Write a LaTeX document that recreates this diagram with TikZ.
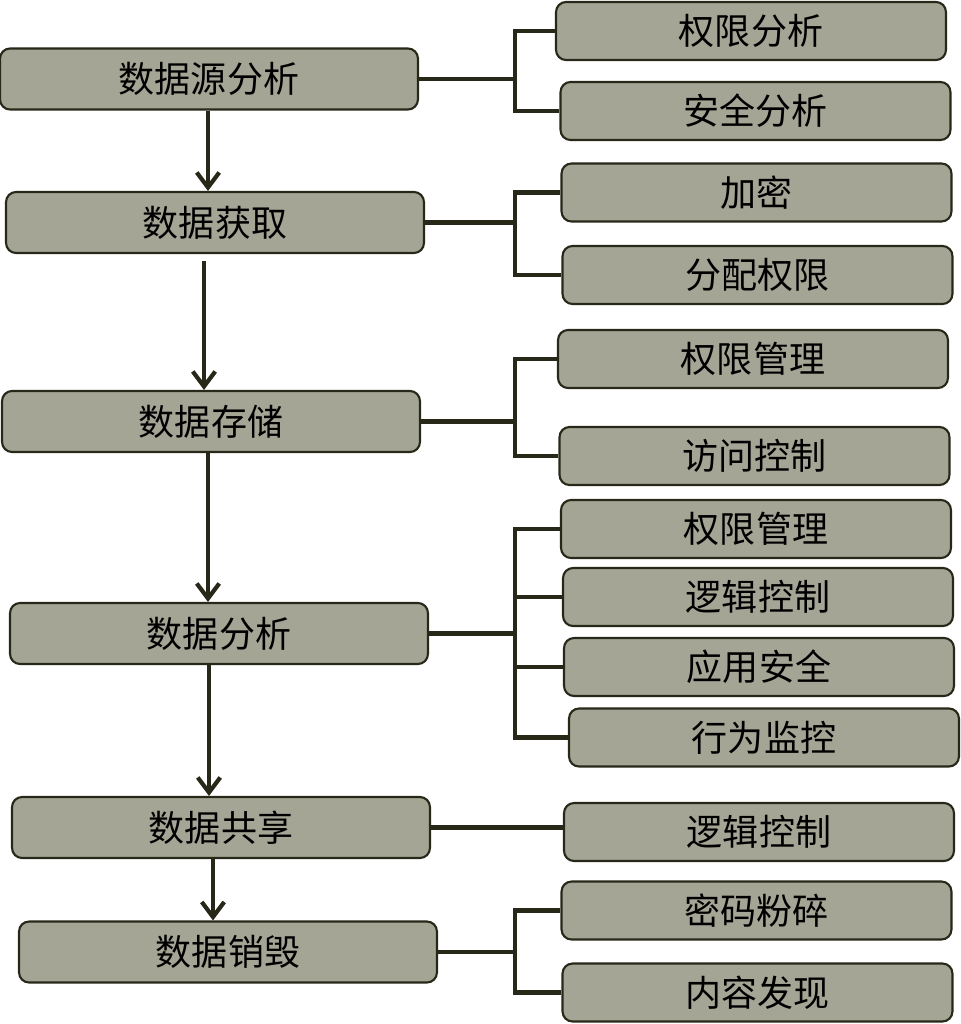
\documentclass[tikz,border=0pt]{standalone}
\usepackage{fontspec}
\setmainfont{Noto Sans CJK SC}
\usepackage{tikz}
\usetikzlibrary{arrows.meta, positioning}
\definecolor{boxgray}{RGB}{165,165,150}
\definecolor{linedark}{RGB}{40,40,24}

\begin{document}
\begin{tikzpicture}[x=0.02cm, y=-0.02cm,
    stage/.style={draw=linedark, line width=1.2pt, fill=boxgray, rounded corners=0.2cm, minimum width=8.36cm, minimum height=1.22cm, inner sep=0pt, font=\fontsize{20.5}{24}\selectfont},
    task/.style={stage, minimum width=7.8cm, minimum height=1.16cm},
    link/.style={linedark, line width=2.4pt},
    flow/.style={link, -{Straight Barb[length=0.3cm, width=0.45cm]}}]
      \useasboundingbox (0,0) rectangle (960,1024);

      \node[stage] (src) at (209,79) {数据源分析};
      \node[stage] (get) at (215,222.5) {数据获取};
      \node[stage] (store) at (211,421.5) {数据存储};
      \node[stage] (ana) at (219,633.5) {数据分析};
      \node[stage] (share) at (221,827.5) {数据共享};
      \node[stage] (del) at (228,952) {数据销毁};

      \node[task] (r1) at (751,31) {权限分析};
      \node[task] (r2) at (755.5,111) {安全分析};
      \node[task] (r3) at (756.5,192.5) {加密};
      \node[task] (r4) at (757.5,275) {分配权限};
      \node[task] (r5) at (753,359) {权限管理};
      \node[task] (r6) at (754.5,456) {访问控制};
      \node[task] (r7) at (756,529) {权限管理};
      \node[task] (r8) at (758,597) {逻辑控制};
      \node[task] (r9) at (759,667) {应用安全};
      \node[task] (r10) at (764,737.5) {行为监控};
      \node[task] (r11) at (759,832) {逻辑控制};
      \node[task] (r12) at (756.5,910.5) {密码粉碎};
      \node[task] (r13) at (757.5,992.5) {内容发现};

      \draw[flow] ([xshift=-0.02cm]src.south) -- ([xshift=-0.02cm]src.south |- get.north);
      \draw[flow] ([xshift=-0.22cm, yshift=-0.14cm]get.south) -- ([xshift=-0.22cm]get.south |- store.north);
      \draw[flow] ([xshift=-0.06cm]store.south) -- ([xshift=-0.06cm]store.south |- ana.north);
      \draw[flow] ([xshift=-0.2cm]ana.south) -- ([xshift=-0.2cm]ana.south |- share.north);
      \draw[flow] ([xshift=-0.16cm]share.south) -- ([xshift=-0.16cm]share.south |- del.north);

      \coordinate (b1) at (515,79);
      \coordinate (b2) at (515,222.5);
      \coordinate (b3) at (515,421.5);
      \coordinate (b4) at (515,633.5);
      \coordinate (b6) at (515,952);

      \draw[link] (src.east) -- (b1) |- (r1.west);
      \draw[link] (b1) |- (r2.west);
      \draw[link] (get.east) -- (b2) |- (r3.west);
      \draw[link] (b2) |- (r4.west);
      \draw[link] (store.east) -- (b3) |- (r5.west);
      \draw[link] (b3) |- (r6.west);
      \draw[link] (ana.east) -- (b4) |- (r7.west);
      \draw[link] (b4) |- (r8.west);
      \draw[link] (b4) |- (r9.west);
      \draw[link] (b4) |- (r10.west);
      \draw[link] (share.east) -- (share.east -| r11.west);
      \draw[link] (del.east) -- (b6) |- (r12.west);
      \draw[link] (b6) |- (r13.west);
    \end{tikzpicture}
\end{document}
